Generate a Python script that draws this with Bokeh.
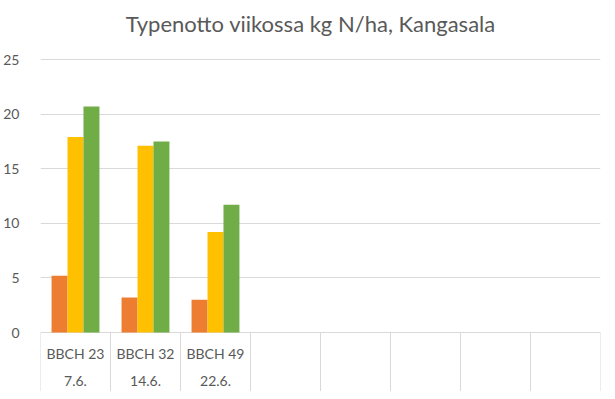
from bokeh.plotting import figure
from bokeh.models import Range1d, FixedTicker
from bokeh.core.properties import value
from bokeh.embed import file_html
from bokeh.resources import INLINE

# ---- data ----
stages = ["BBCH 23", "BBCH 32", "BBCH 49", "", "", "", "", ""]
dates = ["7.6.", "14.6.", "22.6.", "", "", "", "", ""]
series_orange = [5.2, 3.2, 3.0]
series_yellow = [17.9, 17.1, 9.2]
series_green = [20.7, 17.5, 11.7]
y_ticks = [0, 5, 10, 15, 20, 25]
title_text = "Typenotto viikossa kg N/ha, Kangasala"

# ---- layout constants ----
W, H = 607, 391
LEFT, RIGHT = 38, 7
PX_PER_UNIT = 10.92          # vertical pixels per kg N/ha
ZERO_PX = 332                # figure px (from top) of value 0
TEXT_COLOR = "#595959"
GRID_COLOR = "#d9d9d9"
FONT = "Lato"

def yv(fig_px):
    """vertical figure pixel -> data value"""
    return (ZERO_PX - fig_px) / PX_PER_UNIT

n = len(stages)
p = figure(width=W, height=H,
           x_range=Range1d(0, n), y_range=Range1d(yv(H), yv(0)),
           x_axis_location=None,
           output_backend="svg", toolbar_location=None,
           min_border_left=LEFT, min_border_right=RIGHT,
           min_border_top=0, min_border_bottom=0)
p.outline_line_color = None
p.xgrid.visible = False
p.background_fill_color = "white"
p.border_fill_color = "white"

ticker = FixedTicker(ticks=y_ticks)
p.yaxis.ticker = ticker
p.yaxis.axis_line_color = None
p.yaxis.major_tick_line_color = None
p.yaxis.minor_tick_line_color = None
p.yaxis.major_label_text_font = FONT
p.yaxis.major_label_text_font_size = "14px"
p.yaxis.major_label_text_color = TEXT_COLOR
p.yaxis.major_label_standoff = 15
p.ygrid.ticker = ticker
p.ygrid.grid_line_color = GRID_COLOR

# category separators below the axis
seps = list(range(n + 1))
p.segment(x0=seps, y0=[0] * len(seps), x1=seps, y1=[yv(392)] * len(seps),
          line_color=GRID_COLOR, line_width=1)

# bars
bw = 0.228
centers = [i + 0.5 for i in range(len(series_orange))]
p.vbar(x=[c - bw for c in centers], top=series_orange, width=bw,
       fill_color="#ED7D31", line_color=None)
p.vbar(x=centers, top=series_yellow, width=bw,
       fill_color="#FFC000", line_color=None)
p.vbar(x=[c + bw for c in centers], top=series_green, width=bw,
       fill_color="#70AD47", line_color=None)

# category labels
cat_x = [i + 0.5 for i in range(n)]
p.text(x=cat_x, y=[yv(353)] * n, text=stages, text_align="center",
       text_baseline="middle", text_font=value(FONT),
       text_font_size="14px", text_color=TEXT_COLOR)
p.text(x=cat_x, y=[yv(380)] * n, text=dates, text_align="center",
       text_baseline="middle", text_font=value(FONT),
       text_font_size="14px", text_color=TEXT_COLOR)

# title
p.text(x=[3.86], y=[yv(23)], text=[title_text], text_align="center",
       text_baseline="middle", text_font=value(FONT),
       text_font_size="22px", text_color=TEXT_COLOR)

open("out.html", "w").write(file_html(p, INLINE))
